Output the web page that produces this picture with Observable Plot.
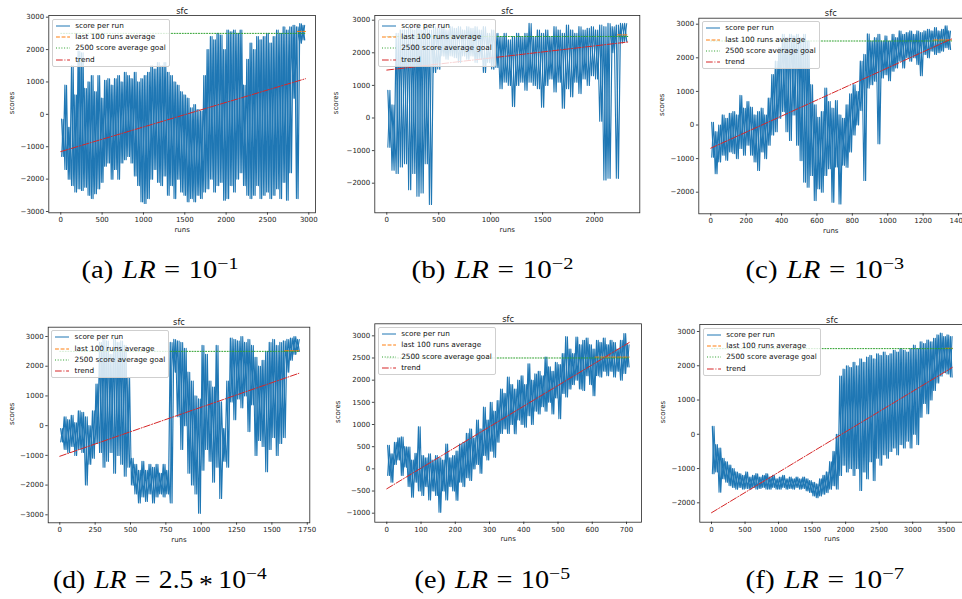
<!DOCTYPE html>
<html>
<head>
<meta charset="utf-8">
<script src="https://cdn.jsdelivr.net/npm/d3@7"></script>
<script src="https://cdn.jsdelivr.net/npm/@observablehq/plot@0.6"></script>
<style>
  html, body { margin: 0; padding: 0; background: #fff; }
  #fig { position: relative; width: 962px; height: 599px; overflow: hidden; background: #fff; }
  #fig > svg { position: absolute; }
  .legend { position: absolute; background: rgba(255,255,255,0.8); border: 1px solid #cfcfcf; border-radius: 2px;
            padding: 2.3px 2.8px; font-family: "DejaVu Sans", sans-serif; font-size: 7.3px; color: #111; line-height: 7.8px; }
  .legend .row { display: flex; align-items: center; height: 7.8px; white-space: nowrap; }
  .legend .row + .row { margin-top: 3.5px; }
  .legend .row svg { flex: none; margin-right: 5.6px; }
</style>
</head>
<body>
<div id="fig"></div>
<script>
// ---------------- data ----------------
// each panel: per-bin upper and lower envelope of "score per run"
const aStep = 40;
const aHi = [-150,900,-400,1500,600,1950,1900,800,1000,1200,700,1200,500,1050,1100,900,1100,1200,1000,1300,1200,1100,1300,1000,1100,1200,1300,1500,1400,1600,1500,1600,1300,1200,1000,900,700,600,500,200,300,150,100,1200,2000,2400,2300,2500,2450,2000,2600,2550,2600,2500,2600,900,1700,2200,2000,2400,2300,2400,2500,2200,2400,2600,2500,2700,2600,2700,2750,2700,2800,2750];
const aLo = [-1300,-1700,-2000,-2200,-2400,-2300,-2350,-2250,-2500,-2600,-2450,-2300,-2100,-1600,-1500,-2000,-1700,-2000,-1500,-1400,-1300,-1500,-1900,-2200,-2700,-2750,-2600,-2000,-1700,-2100,-2200,-1900,-2500,-2200,-2600,-2000,-2400,-2500,-2700,-2600,-2700,-2500,-2600,-2400,-2300,-2000,-2400,-2200,-2100,-2650,-2600,-2200,-2400,-2000,-1800,-2200,-2500,-2600,-2500,-2200,-2600,-2500,-2400,-2600,-2500,-2300,-2600,-2100,-2650,-1800,500,-2600,2200,2300];

const bStep = 40;
const bHi = [850,400,2600,2700,2700,2800,2700,2800,2700,2800,2700,2800,2750,2800,2700,2800,2750,2800,2700,2800,2750,2800,2700,2800,2600,2700,2600,2500,2600,2400,2500,2600,2500,2600,2900,2500,2700,2600,2700,2500,2800,2700,2600,2850,2700,2600,2800,2700,2750,2800,2700,2850,2800,2900,2800,2850,2900,2900];
const bLo = [-900,-1600,-1700,-1500,-1400,-2200,-1700,-2400,-2300,-1400,-2650,1400,1500,1900,1800,1900,1850,1700,1900,1800,1900,1700,1800,1400,1700,1500,1550,900,1100,1000,350,1000,1100,850,1100,1000,900,330,1000,1200,800,1100,300,900,650,1100,750,1200,1000,1300,1200,-100,-1900,-1850,2000,-1850,2300,2350];

const cStep = 20;
const cHi = [80,-200,0,300,200,350,400,300,880,500,700,530,300,400,500,300,800,1500,1900,2300,2700,2600,2700,2650,2700,2600,2700,2500,1200,600,230,400,1100,700,500,730,300,200,600,930,1200,1000,1900,2100,2710,2500,2600,2700,2500,2650,2500,2700,2600,2800,2700,2750,2800,2700,2800,2750,2800,2850,2800,2900,2800,2850,2950,2800];
const cLo = [-960,-1450,-1100,-900,-1050,-800,-850,-1000,-700,-900,-600,-900,-1100,-1350,-800,-1000,-600,-300,-200,200,400,-200,-460,300,-600,-1060,-1700,-1850,-1500,-2250,-1900,-2000,-1500,-1300,-2300,-1250,-2350,-1200,-1260,-800,-300,0,430,-1650,1100,1200,1300,-560,1400,1500,1320,1600,1700,1900,1700,2000,1900,2000,1800,1470,2100,2000,2200,2100,2150,2200,2300,2250];

const dStep = 25;
const dHi = [-100,300,200,350,100,500,450,300,0,500,1400,2800,2900,2850,2400,2900,2800,2850,2700,1600,-1100,-1300,-1500,-1200,-1500,-1300,-1400,-1300,-1600,-1300,-1500,2800,2900,2850,2800,2600,1800,1500,1000,900,2700,2400,1500,1300,2700,800,-100,1500,2950,2900,2850,3000,2800,2900,2700,2300,2000,2200,2500,2800,2900,2700,2800,2850,2900,2950,3000,2900];
const dLo = [-550,-800,-900,-700,-1000,-800,-900,-2000,-1300,-1100,-600,-900,-1400,-1200,-900,-1600,-1000,-1300,-1700,-1400,-2000,-2300,-2600,-2400,-2550,-2300,-2600,-2400,-2300,-2400,-2300,-2600,1800,300,-800,0,-1600,-2000,-2300,-2950,-1500,-800,-1200,-1900,-1400,-2450,-1200,-1400,800,200,900,600,1000,-200,700,-1000,-500,-700,-1550,-800,-400,-1000,-600,-400,1800,2200,2400,2500];

const eStep = 10;
const eHi = [530,340,600,700,720,500,490,200,350,950,300,250,340,200,300,250,200,560,250,300,400,560,600,800,900,700,1100,900,1390,1100,1500,1300,1540,1800,1700,2070,1900,1800,2000,2100,1900,2370,2000,2140,2200,2100,2520,2300,2200,2400,2350,2600,2980,2700,2600,2970,2800,2900,2950,2800,2700,2900,2850,2950,2800,2900,2850,2700,2900,3050,2800];
const eLo = [-150,-300,100,200,-150,40,-400,-640,-300,-500,-600,-400,-700,-500,-600,-980,-500,-700,-400,-500,-710,-300,-400,-200,-260,0,100,-100,300,200,400,260,600,800,900,800,1000,790,1100,1000,940,1200,1000,1300,1240,1400,1300,1500,1240,1600,1130,1700,1620,1800,1900,2000,1800,1770,2100,1900,1650,2100,2070,2200,2100,2200,2070,2200,2000,2150,2300];

const fStep = 50;
const fHi = [230,-300,-400,-700,-800,-900,-1000,-1100,-1150,-1200,-1100,-1250,-1200,-1150,-1250,-1200,-1150,-1250,-1200,-1300,-1250,-1200,-1300,-1250,-1300,-1250,-1300,-1250,-1300,-1350,-1400,-1450,-1300,-1200,-1100,-800,-500,0,1700,1900,2000,1950,2100,2000,2200,2100,2250,2300,2200,2350,2300,2400,2300,2350,2450,2400,2500,2450,2400,2500,2600,2500,2700,2650,2750,2700,2800,2900,2950,2850,2900,2850];
const fLo = [-1150,-1100,-1690,-1300,-1400,-1500,-1550,-1600,-1550,-1600,-1580,-1600,-1550,-1600,-1580,-1550,-1600,-1600,-1550,-1600,-1600,-1550,-1600,-1580,-1600,-1550,-1600,-1580,-1650,-1700,-1800,-1850,-1800,-1750,-1700,-1600,-1500,-1600,-1200,-900,-1100,-1000,-1200,-1000,-1640,-1100,-1300,-800,-1350,-700,-900,-600,-700,-500,-400,-600,-300,-400,-200,-400,0,-300,500,900,600,1000,1280,1500,1700,1800,1760,1670];

// per panel (a..f)
const lastRun    = [2960, 2320, 1360, 1690, 708, 3590];
const avgLast100 = [2560, 2550, 2530, 2520, 2520, 2510];
const trendStart = [-1150, 1470, -690, -1030, -450, -2290];
const trendEnd   = [1100, 2330, 2560, 1760, 2850, 1950];
const goalScore  = 2500;

// tick labels
const xTicksA = [0,500,1000,1500,2000,2500,3000];
const xTicksB = [0,500,1000,1500,2000];
const xTicksC = [0,200,400,600,800,1000,1200,1400];
const xTicksD = [0,250,500,750,1000,1250,1500,1750];
const xTicksE = [0,100,200,300,400,500,600,700];
const xTicksF = [0,500,1000,1500,2000,2500,3000,3500];
const yTicksA = [-3000,-2000,-1000,0,1000,2000,3000];
const yTicksB = [-2000,-1000,0,1000,2000,3000];
const yTicksC = [-2000,-1000,0,1000,2000,3000];
const yTicksD = [-3000,-2000,-1000,0,1000,2000,3000];
const yTicksE = [-1000,-500,0,500,1000,1500,2000,2500,3000];
const yTicksF = [-2000,-1000,0,1000,2000,3000];

// texts
const plotTitle = "sfc";
const xLabel = "runs";
const yLabel = "scores";
const legendLabels = ["score per run", "last 100 runs average", "2500 score average goal", "trend"];
const panelTags = ["(a)", "(b)", "(c)", "(d)", "(e)", "(f)"];
const lrFactor = [null, null, null, "2.5", null, null];
const lrBase = "10";
const lrExp  = ["\u22121", "\u22122", "\u22123", "\u22124", "\u22125", "\u22127"];

// ---------------- layout / style ----------------
const blue = "#1f77b4", orange = "#ff7f0e", green = "#2ca02c", red = "#d62728";
const dashAvg = "3.9,1.7", dashGoal = "1,1.7", dashTrend = "6.7,1.7,1,1.7";

const panels = [
  {hi:aHi, lo:aLo, step:aStep, left:0,   top:0,   W:320, H:240, m:[15,5,27.7,48.3],   xDom:[-145,3081],   yDom:[-3040,3052], xT:xTicksA, yT:yTicksA, yl:-36.6},
  {hi:bHi, lo:bLo, step:bStep, left:320, top:0,   W:322, H:240, m:[15,2.7,27.7,54.3], xDom:[-115.5,2436], yDom:[-2908,3144], xT:xTicksB, yT:yTicksB, yl:-38.6},
  {hi:cHi, lo:cLo, step:cStep, left:640, top:0,   W:330, H:240, m:[17.7,7.7,26.7,58.3],xDom:[-67.8,1424.3],yDom:[-2643,3179], xT:xTicksC, yT:yTicksC, yl:-36.6},
  {hi:dHi, lo:dLo, step:dStep, left:0,   top:300, W:320, H:245, m:[26.7,10.7,22.7,47.7],xDom:[-82,1768],   yDom:[-3269,3313], xT:xTicksD, yT:yTicksD, yl:-36},
  {hi:eHi, lo:eLo, step:eStep, left:320, top:300, W:322, H:245, m:[23.3,1.1,23.3,54.3],xDom:[-35,743.5],   yDom:[-1203,3271], xT:xTicksE, yT:yTicksE, yl:-37},
  {hi:fHi, lo:fLo, step:fStep, left:640, top:300, W:330, H:245, m:[24,6.2,23.3,59.3], xDom:[-174.5,3769.5],yDom:[-2566,3204], xT:xTicksF, yT:yTicksF, yl:-37}
];
const captionCx = [160, 492.5, 825, 160, 492.5, 825];
const captionBase = [278, 278, 278, 588, 588, 588];
const captionWidth = [157, 162, 159, 214, 156, 159];

const fmt = d => (d < 0 ? "\u2212" : "") + Math.abs(d);
const fig = document.getElementById("fig");

panels.forEach((p, k) => {
  // two interleaved passes over the same envelope values give the dense look of the raw series
  const pts1 = [], pts2 = [];
  p.hi.forEach((h, i) => {
    const x0 = i * p.step;
    pts1.push({run: x0 + p.step * 0.25, score: h});
    pts1.push({run: x0 + p.step * 0.75, score: p.lo[i]});
    pts2.push({run: x0 + p.step * 0.25, score: p.lo[i]});
    pts2.push({run: x0 + p.step * 0.75, score: h});
  });
  const end = lastRun[k];
  const avgLine = [{run: end - 100, score: avgLast100[k]}, {run: end, score: avgLast100[k]}];
  const goalLine = [{run: 0, score: goalScore}, {run: end, score: goalScore}];
  const trendLine = [{run: 0, score: trendStart[k]}, {run: end, score: trendEnd[k]}];

  const svg = Plot.plot({
    width: p.W, height: p.H,
    marginTop: p.m[0], marginRight: p.m[1], marginBottom: p.m[2], marginLeft: p.m[3],
    style: {fontFamily: "DejaVu Sans, sans-serif", fontSize: "7px", color: "#1a1a1a", background: "transparent", overflow: "visible"},
    x: {domain: p.xDom},
    y: {domain: p.yDom},
    marks: [
      Plot.line(pts1, {x: "run", y: "score", stroke: blue, strokeWidth: 1.2}),
      Plot.line(pts2, {x: "run", y: "score", stroke: blue, strokeWidth: 1.05}),
      Plot.line(avgLine, {x: "run", y: "score", stroke: orange, strokeWidth: 1, strokeDasharray: dashAvg}),
      Plot.line(goalLine, {x: "run", y: "score", stroke: green, strokeWidth: 1, strokeDasharray: dashGoal}),
      Plot.line(trendLine, {x: "run", y: "score", stroke: red, strokeWidth: 1, strokeDasharray: dashTrend}),
      Plot.frame({stroke: "#262626", strokeWidth: 0.8}),
      Plot.axisX({ticks: p.xT, tickSize: 2.4, tickPadding: 2.2, tickFormat: fmt, label: null, strokeWidth: 0.8}),
      Plot.axisY({ticks: p.yT, tickSize: 2.4, tickPadding: 2.2, tickFormat: fmt, label: null, strokeWidth: 0.8}),
      Plot.text([plotTitle], {frameAnchor: "top", dy: -7.7, fontSize: 8.4}),
      Plot.text([xLabel], {frameAnchor: "bottom", dy: 18.7, fontSize: 7}),
      Plot.text([yLabel], {frameAnchor: "left", dx: p.yl, rotate: -90, fontSize: 7})
    ]
  });
  svg.style.left = p.left + "px";
  svg.style.top = p.top + "px";
  fig.appendChild(svg);

  // legend (matplotlib style, upper left inside the axes)
  const lg = document.createElement("div");
  lg.className = "legend";
  lg.style.left = (p.left + p.m[3] + 3.5) + "px";
  lg.style.top = (p.top + p.m[0] + 3.5) + "px";
  const styles = [[blue, null], [orange, dashAvg], [green, dashGoal], [red, dashTrend]];
  legendLabels.forEach((lab, j) => {
    const row = document.createElement("div");
    row.className = "row";
    const dash = styles[j][1] ? ` stroke-dasharray="${styles[j][1]}"` : "";
    row.innerHTML = `<svg width="14" height="8"><line x1="0" y1="4" x2="14" y2="4" stroke="${styles[j][0]}" stroke-width="1"${dash}/></svg><span>${lab}</span>`;
    lg.appendChild(row);
  });
  fig.appendChild(lg);
});

// captions (LaTeX-like subcaptions); widened horizontally to the reference width
const cap = d3.select(fig).append("svg").attr("width", 962).attr("height", 599)
  .style("left", "0px").style("top", "0px").style("pointer-events", "none");
panelTags.forEach((tag, k) => {
  const cx = captionCx[k];
  const t = cap.append("text")
    .attr("x", cx).attr("y", captionBase[k])
    .attr("text-anchor", "middle")
    .attr("font-family", "Liberation Serif, serif")
    .attr("font-size", 25).attr("fill", "#000");
  t.append("tspan").text(tag);
  t.append("tspan").attr("dx", 8).attr("font-style", "italic").text("LR");
  t.append("tspan").attr("dx", 7.5).text("=");
  if (lrFactor[k]) {
    t.append("tspan").attr("dx", 7.5).text(lrFactor[k]);
    t.append("tspan").attr("dx", 5).attr("dy", 5).text("*");
    t.append("tspan").attr("dx", 5).attr("dy", -5).text(lrBase);
  } else {
    t.append("tspan").attr("dx", 7.5).text(lrBase);
  }
  t.append("tspan").attr("font-size", 17.5).attr("dy", -9).text(lrExp[k]);
  const bb = t.node().getBBox();
  const s = bb.width > 0 ? captionWidth[k] / bb.width : 1;
  const c = bb.x + bb.width / 2;
  t.attr("transform", `translate(${cx},0) scale(${s},1) translate(${-c},0)`);
});
</script>
</body>
</html>
